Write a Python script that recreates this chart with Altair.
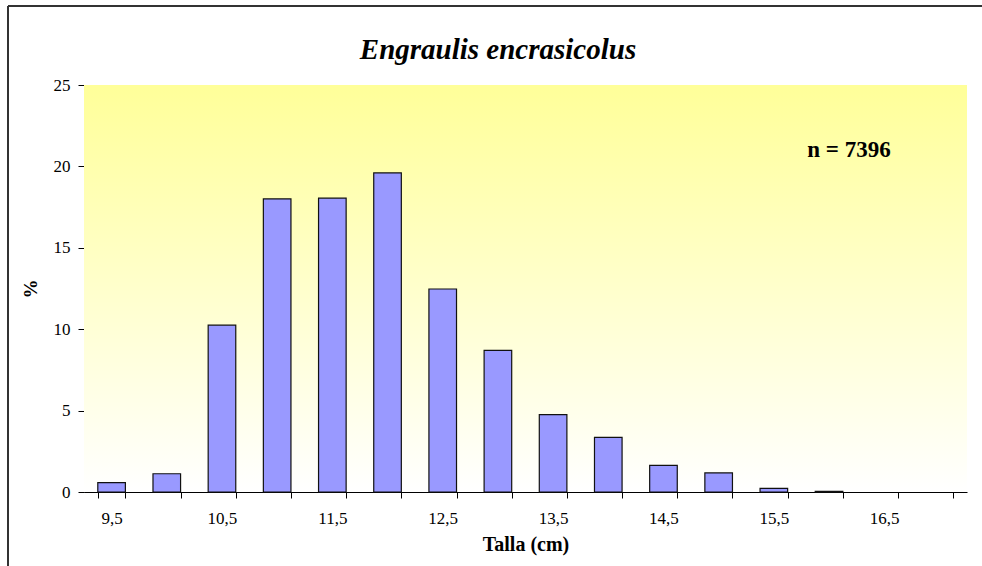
import altair as alt
import pandas as pd

# Length classes (cm) and percentage of individuals in each class
tallas = ["9,5", "10", "10,5", "11", "11,5", "12", "12,5", "13", "13,5",
          "14", "14,5", "15", "15,5", "16", "16,5", "17"]
porcentajes = [0.58, 1.12, 10.25, 18.0, 18.05, 19.6, 12.47, 8.7, 4.75,
               3.36, 1.63, 1.17, 0.22, 0.04, 0.0, 0.0]
titulo = "Engraulis encrasicolus"
muestra = "n = 7396"

W, H = 883, 407
FONT = "Liberation Serif"

df = pd.DataFrame({"talla": tallas, "pct": porcentajes})

# Pale yellow to white backdrop of the plotting area
fondo = alt.Chart(df).mark_rect(
    fill=alt.Gradient(
        gradient="linear",
        stops=[alt.GradientStop(color="#FFFF99", offset=0),
               alt.GradientStop(color="#FFFFFF", offset=1)],
        x1=0, x2=0, y1=0, y2=1,
    )
).encode(x=alt.value(0), x2=alt.value(W), y=alt.value(0), y2=alt.value(H))

# Empty classes keep their slot on the axis but draw no bar
barras = alt.Chart(df).mark_bar(
    color="#9999FF", stroke="#111111", strokeWidth=1.2
).encode(
    x=alt.X(
        "talla:N",
        sort=tallas,
        scale=alt.Scale(domain=tallas, paddingInner=0.5, paddingOuter=0.25),
        axis=alt.Axis(
            title="Talla (cm)",
            labelAngle=0,
            tickBand="extent",
            labelExpr="indexof(datum.label, ',5') >= 0 ? datum.label : ''",
            labelFont=FONT, labelFontSize=17, labelColor="#000000",
            labelPadding=12,
            titleFont=FONT, titleFontSize=20, titleFontWeight="bold",
            titleColor="#000000", titlePadding=8,
            tickColor="#000000", tickSize=6,
            domainColor="#000000", grid=False,
        ),
    ),
    y=alt.Y(
        "pct:Q",
        scale=alt.Scale(domain=[0, 25], nice=False),
        axis=alt.Axis(
            title="%",
            values=[0, 5, 10, 15, 20, 25],
            labelFont=FONT, labelFontSize=17, labelColor="#000000",
            labelPadding=8,
            titleFont=FONT, titleFontSize=19, titleFontWeight="bold",
            titleColor="#000000", titlePadding=13,
            tickColor="#000000", tickSize=6,
            domainColor="#000000", grid=False,
        ),
    ),
).transform_filter("datum.pct > 0")

cabecera = alt.Chart(pd.DataFrame({"t": [titulo]})).mark_text(
    font=FONT, fontSize=29, fontWeight="bold", fontStyle="italic",
    color="#000000", align="center", baseline="middle",
).encode(x=alt.value(414), y=alt.value(-35), text="t:N")

etiqueta_n = alt.Chart(pd.DataFrame({"t": [muestra]})).mark_text(
    font=FONT, fontSize=23, fontWeight="bold",
    color="#000000", align="center", baseline="middle",
).encode(x=alt.value(765), y=alt.value(65), text="t:N")

# Outer frame of the figure (top and left edges)
marco_sup = alt.Chart(df).mark_rule(color="#333333", strokeWidth=2).encode(
    x=alt.value(-76), x2=alt.value(W + 20), y=alt.value(-79)
)
marco_izq = alt.Chart(df).mark_rule(color="#333333", strokeWidth=2).encode(
    x=alt.value(-76), y=alt.value(-79), y2=alt.value(H + 90)
)

chart = alt.layer(fondo, barras, cabecera, etiqueta_n, marco_sup, marco_izq).properties(
    width=W, height=H,
    autosize=alt.AutoSizeParams(type="none"),
    padding={"left": 84, "top": 85, "right": 15, "bottom": 74},
    background="#FFFFFF",
).configure_view(stroke=None)

chart.save("out.html", embed_options={"renderer": "svg", "actions": False})
